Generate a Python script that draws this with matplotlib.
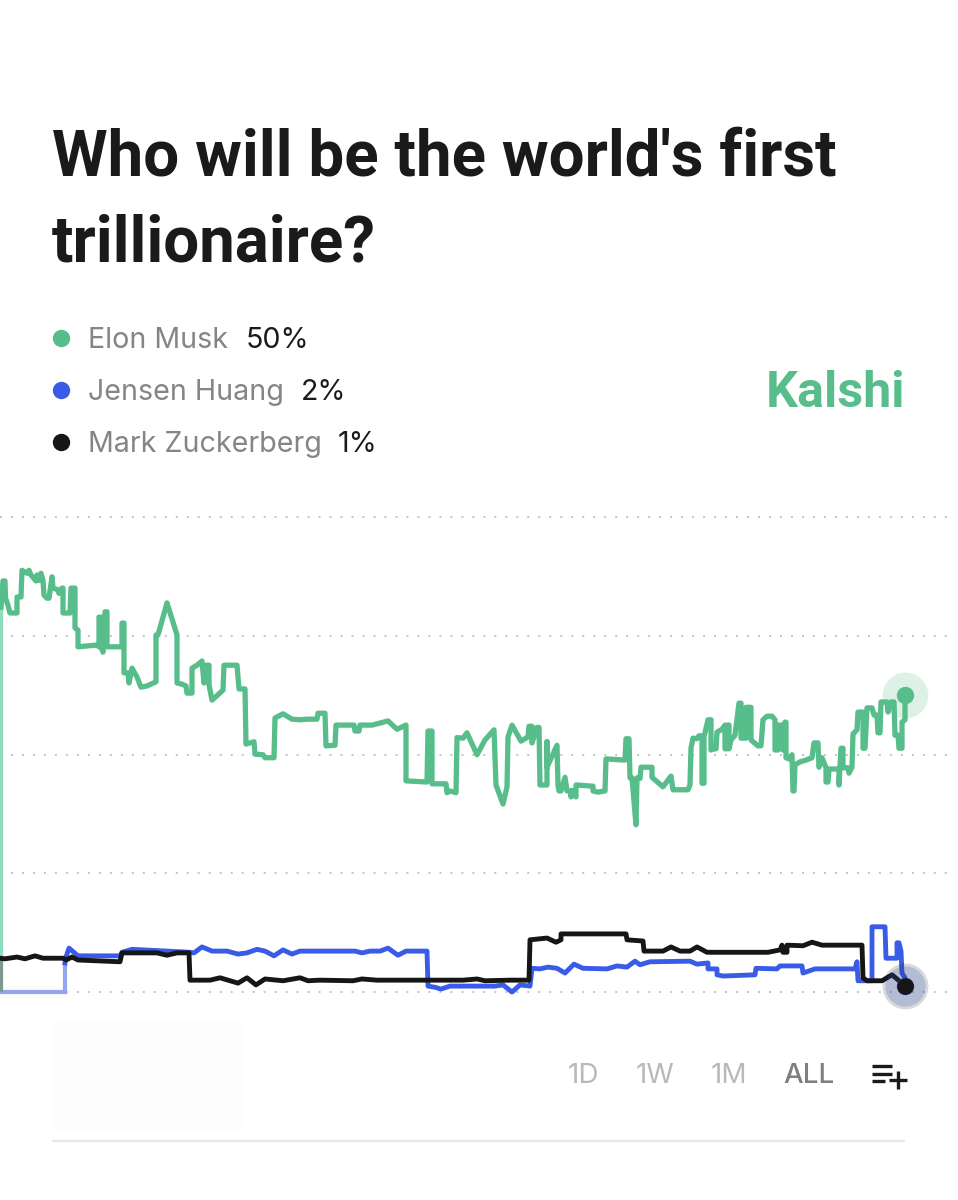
import matplotlib
matplotlib.use("Agg")
import matplotlib.pyplot as plt
from matplotlib.patches import Rectangle

plt.rcParams['font.family'] = ['Inter', 'Liberation Sans', 'DejaVu Sans']

TITLE = "Who will be the world's first\ntrillionaire?"
NAMES = ["Elon Musk", "Jensen Huang", "Mark Zuckerberg"]
LATEST = ["50%", "2%", "1%"]
RANGES = ["1D", "1W", "1M", "ALL"]
GRID_VALUES = [0, 20, 40, 60, 80]

musk_t = [1,1,3,4,5,5.5,8,10,17,17,21,22,27,29,31,36,37,39,41,43,44,47,49,52,53,58,59,62,63,63,70,71,75,75,78,78,97,99,99,101,101,103,105,107,107,122,122,124,124,128,129,132,137,141,147,156,156,158,167,177,177,182,186,187,192,192,197,202,204,206,209,209,212,223,224,237,239,245,246,254,255,263,265,274,275,283,292,300,307,317,318,320,325,326,335,336,354,355,359,360,372,388,397,406,406,427,428,432,432,446,447,450,456,457,463,467,477,485,494,496,503,507,508,512,521,528,529,532,532,537,539,540,547,547,547,557,558,559,561,565,567,571,571,572,576,576,593,593,598,605,606,625,626,629,630,632,636,637,640,641,652,652,663,671,673,688,690,
          691,693,697,699,702,702,704,704,708,711,711,714,716,717,722,725,725,727,727,729,729,731,735,739,741,741,746,746,751,751,758,761,763,767,772,775,775,778,778,783,783,785,786,786,789,792,793,794,795,800,806,812,814,818,819,822,826,826,828,829,839,839,841,843,843,848,849,852,853,857,858,863,863,865,867,872,874,877,878,880,881,887,888,891,894,895,898,899,902,902,905,905]
musk_v = [64.9,64.9,69.3,69.3,69.3,66.4,65.2,63.9,63.9,66.6,66.6,71.1,70.6,71.1,70.3,69.3,70.3,69.4,70.6,69.4,66.9,66.4,66.4,70.0,68.1,67.8,67.2,68.1,68.1,63.9,63.9,68.1,68.1,61.4,61.0,58.2,58.5,58.2,63.2,63.2,58.2,57.3,64.1,64.1,58.2,58.2,62.2,62.2,53.8,53.8,52.1,54.6,53.1,51.4,51.6,52.3,60.2,60.2,65.6,60.2,52.1,51.9,51.6,50.4,50.4,54.6,55.1,55.8,52.1,55.1,55.1,51.8,49.2,50.9,55.1,55.1,51.1,51.1,41.8,42.2,40.1,40.0,39.5,39.5,46.2,46.9,46.0,45.9,46.0,46.0,47.0,47.0,47.0,41.5,41.6,45.0,45.0,44.0,44.0,45.0,45.0,45.7,44.3,45.0,35.6,35.4,44.0,44.0,35.1,35.1,33.6,33.9,33.6,42.9,42.8,43.7,40.0,42.5,44.2,34.9,31.7,34.6,43.0,45.0,42.3,43.0,44.8,44.8,42.0,44.6,44.6,34.9,34.9,42.2,37.9,41.6,34.9,33.9,33.9,36.2,33.9,33.9,32.9,34.0,32.9,34.9,34.7,33.9,33.7,33.9,39.3,39.1,42.7,42.7,36.1,36.1,28.2,36.1,36.0,37.9,37.9,36.2,34.6,36.4,34.1,34.1,34.9,
          41.1,42.8,42.7,43.2,43.2,35.2,35.2,43.0,45.9,45.9,40.8,41.0,41.0,43.8,44.3,45.0,41.0,41.0,45.0,45.0,41.0,42.5,43.3,48.7,48.7,42.8,42.8,48.0,48.0,42.5,41.5,41.5,45.9,46.5,46.5,45.9,40.8,40.8,45.0,45.0,40.8,45.5,45.5,39.5,39.3,40.0,33.9,33.9,38.3,38.8,39.1,39.5,42.0,42.0,37.9,39.5,37.8,35.4,35.4,37.6,37.6,34.9,41.1,41.1,37.8,37.8,36.9,37.9,43.5,44.2,47.2,47.2,41.1,41.1,47.9,47.9,46.7,46.7,43.7,43.7,48.9,48.9,47.2,48.9,48.9,43.3,43.3,41.1,41.1,45.5,45.9,50.0]

huang_early_t = [1,65,65]
huang_early_v = [0.0,0.0,4.9]
huang_t = [65,66,69,78,100,120,122,132,190,194,202,212,227,238,247,257,265,274,283,292,300,320,355,362,370,380,388,398,406,427,428,435,441,450,495,503,512,520,530,532,540,548,557,565,574,583,607,617,627,635,640,650,690,697,708,708,717,717,723,755,756,777,780,802,803,815,855,857,858,872,872,885,886,897,897,899,901,902,905,905]
huang_v = [4.9,5.9,7.4,6.1,6.1,6.1,6.7,7.2,6.7,6.6,7.6,6.9,6.9,6.4,6.6,7.2,6.9,6.1,7.1,6.4,6.9,6.9,6.9,6.6,6.9,6.9,7.4,6.2,6.9,6.9,1.0,0.8,0.5,1.0,1.0,1.2,0.0,1.2,1.0,4.0,3.9,4.2,4.0,3.2,4.7,4.0,3.9,4.4,4.2,5.2,4.6,5.1,5.2,4.7,4.9,3.9,3.9,2.9,2.7,2.9,4.0,3.9,4.4,4.4,3.2,3.9,3.9,5.1,1.9,1.9,11.0,11.0,5.7,5.7,8.3,8.3,6.9,3.2,2.4,1.0]

zuck_t = [0,5,17,25,35,43,63,66,72,78,120,122,157,167,177,189,190,210,220,238,247,256,265,283,300,308,320,353,362,377,463,477,485,510,529,530,547,556,561,561,626,627,643,644,663,671,680,690,697,707,768,780,782,783,787,787,803,812,822,862,863,867,882,892,897,905]
zuck_v = [5.7,5.6,5.9,5.6,6.1,5.7,5.7,5.4,5.9,5.4,5.1,6.6,6.6,6.2,6.6,6.6,2.0,2.0,2.4,1.5,2.4,1.2,2.2,1.9,2.4,1.9,2.0,1.9,2.2,2.0,2.0,2.2,1.9,2.0,2.0,8.8,9.1,8.4,8.8,9.8,9.8,8.8,8.6,6.9,6.9,7.6,6.9,6.9,7.6,6.7,6.7,7.1,7.9,6.7,6.7,7.9,7.8,8.4,7.9,7.9,2.4,1.9,1.9,2.9,2.2,1.0]

GREEN = '#56bd8b'
BLUE = '#3a5be8'
BLACK = '#161616'

fig = plt.figure(figsize=(9.58, 12), dpi=100, facecolor='white')

# chart area: spans px rows 500..1010 of the figure
ax = fig.add_axes([0, 190/1200, 1, 510/1200])
ax.set_xlim(0, 958)
ax.set_ylim(-3.03, 82.95)
ax.axis('off')

ax.hlines(GRID_VALUES, 0, 950, colors='#c4c4c4', linewidth=1.4,
          linestyles=(0, (1.0, 4.65)), zorder=1)

ax.plot(musk_t[:2], [0, musk_v[1]], color='#8edcbc', lw=3.0, solid_capstyle='butt', zorder=2)
ax.plot(musk_t[1:], musk_v[1:], color=GREEN, lw=3.8, solid_joinstyle='round', zorder=3)
ax.plot(huang_early_t, huang_early_v, color='#93a6f2', lw=3.0, solid_joinstyle='miter', zorder=3)
ax.plot(huang_t, huang_v, color=BLUE, lw=3.5, solid_joinstyle='round', zorder=4)
ax.plot(zuck_t, zuck_v, color=BLACK, lw=3.5, solid_joinstyle='round', zorder=5)
ax.plot([1, 1], [0, 5.7], color='#7c9a90', lw=3.0, solid_capstyle='butt', zorder=4)

# end markers with halos
ax.plot(musk_t[-1], musk_v[-1], 'o', ms=33, mfc=GREEN, mec='none', alpha=0.2, zorder=6)
ax.plot(musk_t[-1], musk_v[-1], 'o', ms=12.5, mfc=GREEN, mec='none', zorder=7)
ax.plot(huang_t[-1], huang_v[-1], 'o', ms=29, mfc=BLUE, mec='none', alpha=0.22, zorder=6)
ax.plot(huang_t[-1], huang_v[-1], 'o', ms=12.5, mfc=BLUE, mec='none', zorder=6)
ax.plot(zuck_t[-1], zuck_v[-1], 'o', ms=33, mfc=BLACK, mec='none', alpha=0.16, zorder=6)
ax.plot(zuck_t[-1], zuck_v[-1], 'o', ms=12, mfc=BLACK, mec='none', zorder=7)

# page furniture, positioned in pixels
ui = fig.add_axes([0, 0, 1, 1], zorder=-1)
ui.set_xlim(0, 958)
ui.set_ylim(1200, 0)
ui.axis('off')
top = fig.add_axes([0, 0, 1, 1], zorder=3)
top.set_xlim(0, 958)
top.set_ylim(1200, 0)
top.axis('off')
top.patch.set_alpha(0)

title_lines = TITLE.split("\n")
top.text(52, 175, title_lines[0], fontsize=45.8, fontweight='bold', family='Roboto',
         color='#1a1a1a', va='baseline', ha='left')
top.text(52, 262, title_lines[1], fontsize=45.8, fontweight='bold', family='Roboto',
         color='#1a1a1a', va='baseline', ha='left')

rows = [338, 390, 442]
dots = [GREEN, BLUE, BLACK]
vals_x = [246, 301, 338]
for y, n, v, d, vx in zip(rows, NAMES, LATEST, dots, vals_x):
    top.plot(61, y, 'o', ms=12.5, mfc=d, mec='none')
    top.text(88, y + 2, n, fontsize=20.6, color='#858585', va='center', ha='left')
    top.text(vx, y + 2, v, fontsize=20.6, color='#1a1a1a', va='center', ha='left')

top.text(905, 407, "Kalshi", fontsize=36.2, fontweight='bold', family='Roboto',
         color=GREEN, va='baseline', ha='right')

ui.add_patch(Rectangle((52, 1022), 190, 108, fc='#fdfdfd', ec='none'))
centers = [583, 655, 729, 809]
colors = ['#b9b9b9', '#b9b9b9', '#b9b9b9', '#7f7f7f']
for cx, r, c in zip(centers, RANGES, colors):
    top.text(cx, 1076, r, fontsize=20, color=c, va='center', ha='center',
             fontweight='medium' if r == 'ALL' else 'normal')

# "add to list" icon
for (x0, x1, y0) in [(872, 892, 1066), (872, 892, 1074), (872, 885, 1081)]:
    top.plot([x0, x1], [y0, y0], color='#1a1a1a', lw=2.4, solid_capstyle='butt')
top.plot([889, 907], [1080, 1080], color='#1a1a1a', lw=2.4, solid_capstyle='butt')
top.plot([898, 898], [1071, 1089], color='#1a1a1a', lw=2.4, solid_capstyle='butt')

top.plot([52, 905], [1141, 1141], color='#e8e8e8', lw=1.6, solid_capstyle='butt')

fig.savefig('out.png', dpi=100, facecolor='white')
